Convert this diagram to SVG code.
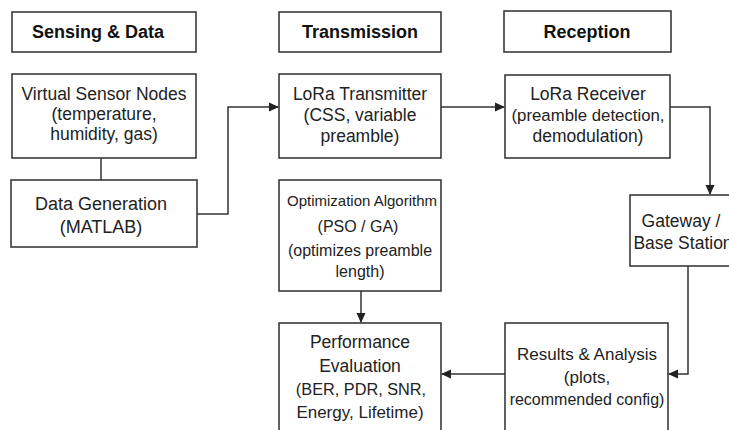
<svg xmlns="http://www.w3.org/2000/svg" width="729" height="430" viewBox="0 0 729 430">
<defs>
<marker id="ah" markerWidth="10" markerHeight="10" refX="9" refY="5" orient="auto" markerUnits="userSpaceOnUse">
<path d="M0,0.5 L10,5 L0,9.5 Z" fill="#222"/>
</marker>
<style>
.box{fill:#fff;stroke:#3a3a3a;stroke-width:1.6}
.t{font-family:"Liberation Sans",Arial,sans-serif;font-size:17.5px;fill:#222;text-anchor:middle}
.h{font-family:"Liberation Sans",Arial,sans-serif;font-size:18px;font-weight:bold;fill:#111;text-anchor:middle}
.s{font-size:15px}
.c{fill:none;stroke:#333;stroke-width:1.5}
</style>
</defs>
<rect width="729" height="430" fill="#fff"/>
<g id="hdr-sensing"><rect class="box" x="12" y="12" width="184" height="40"/><text class="h" x="98" y="38">Sensing &amp; Data</text></g>
<g id="hdr-transmission"><rect class="box" x="279" y="12" width="162" height="40"/><text class="h" x="360" y="38">Transmission</text></g>
<g id="hdr-reception"><rect class="box" x="504" y="11" width="167" height="41"/><text class="h" x="587" y="38">Reception</text></g>
<g id="virtual-sensor"><rect class="box" x="12" y="74" width="184" height="84"/>
<text class="t" x="104" y="100">Virtual Sensor Nodes</text>
<text class="t" x="104" y="120">(temperature,</text>
<text class="t" x="104" y="140">humidity, gas)</text></g>
<g id="data-gen"><rect class="box" x="11" y="180" width="186" height="67"/>
<text class="t" x="101" y="210" style="font-size:18px">Data Generation</text>
<text class="t" x="101" y="233" style="font-size:18px">(MATLAB)</text></g>
<g id="lora-tx"><rect class="box" x="279" y="74" width="162" height="84"/>
<text class="t" x="360" y="100">LoRa Transmitter</text>
<text class="t" x="360" y="121">(CSS, variable</text>
<text class="t" x="360" y="142">preamble)</text></g>
<g id="lora-rx"><rect class="box" x="505" y="75" width="165" height="83"/>
<text class="t" x="588" y="100">LoRa Receiver</text>
<text class="t" x="588" y="121" style="font-size:16.8px">(preamble detection,</text>
<text class="t" x="588" y="142">demodulation)</text></g>
<g id="opt"><rect class="box" x="279" y="180" width="162" height="111"/>
<text class="t s" x="362" y="206">Optimization Algorithm</text>
<text class="t" x="358" y="232" style="font-size:16px">(PSO / GA)</text>
<text class="t" x="360" y="256" style="font-size:16px">(optimizes preamble</text>
<text class="t" x="360" y="277" style="font-size:16px">length)</text></g>
<g id="gateway"><rect class="box" x="630" y="195" width="106" height="71"/>
<text class="t" x="681" y="227">Gateway /</text>
<text class="t" x="683" y="249">Base Station</text></g>
<g id="perf"><rect class="box" x="279" y="323" width="162" height="112"/>
<text class="t" x="360" y="348">Performance</text>
<text class="t" x="360" y="372">Evaluation</text>
<text class="t" x="361" y="395" style="font-size:16.3px">(BER, PDR, SNR,</text>
<text class="t" x="360" y="418" style="font-size:17px">Energy, Lifetime)</text></g>
<g id="results"><rect class="box" x="505" y="323" width="163" height="112"/>
<text class="t" x="587" y="360" style="font-size:17px">Results &amp; Analysis</text>
<text class="t" x="587" y="383" style="font-size:17px">(plots,</text>
<text class="t" x="587" y="405" style="font-size:16px">recommended config)</text></g>
<g id="connectors">
<path class="c" d="M101,158 V180"/>
<path class="c" d="M197,214 H228 V107 H278" marker-end="url(#ah)"/>
<path class="c" d="M441,107 H504" marker-end="url(#ah)"/>
<path class="c" d="M670,107 H710 V194" marker-end="url(#ah)"/>
<path class="c" d="M688,266 V374 H669" marker-end="url(#ah)"/>
<path class="c" d="M505,374 H442" marker-end="url(#ah)"/>
<path class="c" d="M361,291 V322" marker-end="url(#ah)"/>
</g>
</svg>
